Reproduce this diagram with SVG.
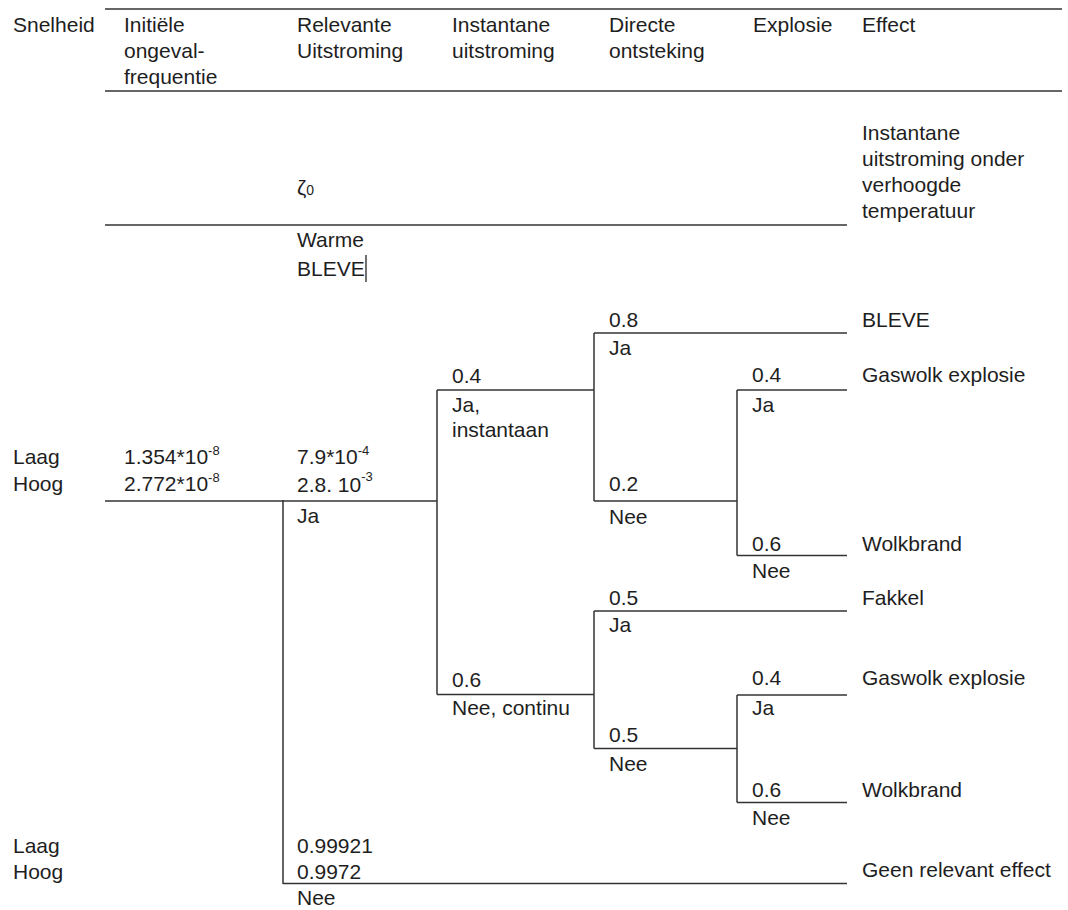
<svg xmlns="http://www.w3.org/2000/svg" width="1068" height="910" viewBox="0 0 1068 910">
<style>
text{font-family:"Liberation Sans",Arial,sans-serif;font-size:21px;fill:#1e1e1e}
.sup{font-size:13px}
.ln{stroke:#333;stroke-width:1.5;fill:none}
</style>
<rect width="1068" height="910" fill="#fff"/>
<g id="header">
<line class="ln" x1="105" y1="9" x2="1062" y2="9"/>
<line class="ln" x1="105" y1="91" x2="1062" y2="91"/>
<text x="13" y="32">Snelheid</text>
<text x="124" y="32">Initiële</text>
<text x="124" y="58">ongeval-</text>
<text x="124" y="84">frequentie</text>
<text x="297" y="32">Relevante</text>
<text x="297" y="58">Uitstroming</text>
<text x="452" y="32">Instantane</text>
<text x="452" y="58">uitstroming</text>
<text x="609" y="32">Directe</text>
<text x="609" y="58">ontsteking</text>
<text x="753" y="32">Explosie</text>
<text x="862" y="32">Effect</text>
</g>
<g id="warme-bleve">
<line class="ln" x1="105" y1="225" x2="847" y2="225"/>
<text x="297" y="195">ζ<tspan font-size="14">0</tspan></text>
<text x="297" y="247">Warme</text>
<text x="297" y="276">BLEVE</text>
<line x1="366" y1="255" x2="366" y2="282" stroke="#111" stroke-width="1.2"/>
<text x="862" y="140">Instantane</text>
<text x="862" y="166">uitstroming onder</text>
<text x="862" y="192">verhoogde</text>
<text x="862" y="218">temperatuur</text>
</g>
<g id="connectors">
<line class="ln" x1="105" y1="501" x2="437" y2="501"/>
<line class="ln" x1="283" y1="500" x2="283" y2="884"/>
<line class="ln" x1="283" y1="883.5" x2="847" y2="883.5"/>
<line class="ln" x1="437" y1="390" x2="437" y2="694.5"/>
<line class="ln" x1="437" y1="390" x2="594" y2="390"/>
<line class="ln" x1="437" y1="694.5" x2="594" y2="694.5"/>
<line class="ln" x1="594" y1="333" x2="594" y2="501"/>
<line class="ln" x1="594" y1="333" x2="847" y2="333"/>
<line class="ln" x1="594" y1="501" x2="737" y2="501"/>
<line class="ln" x1="737" y1="390" x2="737" y2="555.5"/>
<line class="ln" x1="737" y1="390" x2="847" y2="390"/>
<line class="ln" x1="737" y1="555.5" x2="847" y2="555.5"/>
<line class="ln" x1="594" y1="611" x2="594" y2="748.5"/>
<line class="ln" x1="594" y1="611" x2="847" y2="611"/>
<line class="ln" x1="594" y1="748.5" x2="737" y2="748.5"/>
<line class="ln" x1="737" y1="695" x2="737" y2="802.5"/>
<line class="ln" x1="737" y1="695" x2="847" y2="695"/>
<line class="ln" x1="737" y1="802.5" x2="847" y2="802.5"/>
</g>
<g id="initial">
<text x="13" y="464">Laag</text>
<text x="13" y="491">Hoog</text>
<text x="124" y="464">1.354*10<tspan class="sup" dy="-9">-8</tspan></text>
<text x="124" y="491">2.772*10<tspan class="sup" dy="-9">-8</tspan></text>
</g>
<g id="relevant-ja">
<text x="297" y="464">7.9*10<tspan class="sup" dy="-9">-4</tspan></text>
<text x="297" y="492">2.8. 10<tspan class="sup" dy="-11">-3</tspan></text>
<text x="297" y="523">Ja</text>
</g>
<g id="relevant-nee">
<text x="13" y="853">Laag</text>
<text x="13" y="879">Hoog</text>
<text x="297" y="853">0.99921</text>
<text x="297" y="879">0.9972</text>
<text x="297" y="905">Nee</text>
<text x="862" y="877">Geen relevant effect</text>
</g>
<g id="instantaan">
<text x="452" y="383">0.4</text>
<text x="452" y="412">Ja,</text>
<text x="452" y="437">instantaan</text>
<text x="609" y="327">0.8</text>
<text x="609" y="355">Ja</text>
<text x="862" y="327">BLEVE</text>
<text x="609" y="491">0.2</text>
<text x="609" y="524">Nee</text>
<text x="752" y="382">0.4</text>
<text x="752" y="412">Ja</text>
<text x="862" y="382">Gaswolk explosie</text>
<text x="752" y="551">0.6</text>
<text x="752" y="578">Nee</text>
<text x="862" y="551">Wolkbrand</text>
</g>
<g id="continu">
<text x="452" y="687">0.6</text>
<text x="452" y="715">Nee, continu</text>
<text x="609" y="605">0.5</text>
<text x="609" y="632">Ja</text>
<text x="862" y="605">Fakkel</text>
<text x="609" y="742">0.5</text>
<text x="609" y="771">Nee</text>
<text x="752" y="685">0.4</text>
<text x="752" y="715">Ja</text>
<text x="862" y="685">Gaswolk explosie</text>
<text x="752" y="797">0.6</text>
<text x="752" y="825">Nee</text>
<text x="862" y="797">Wolkbrand</text>
</g>
</svg>
